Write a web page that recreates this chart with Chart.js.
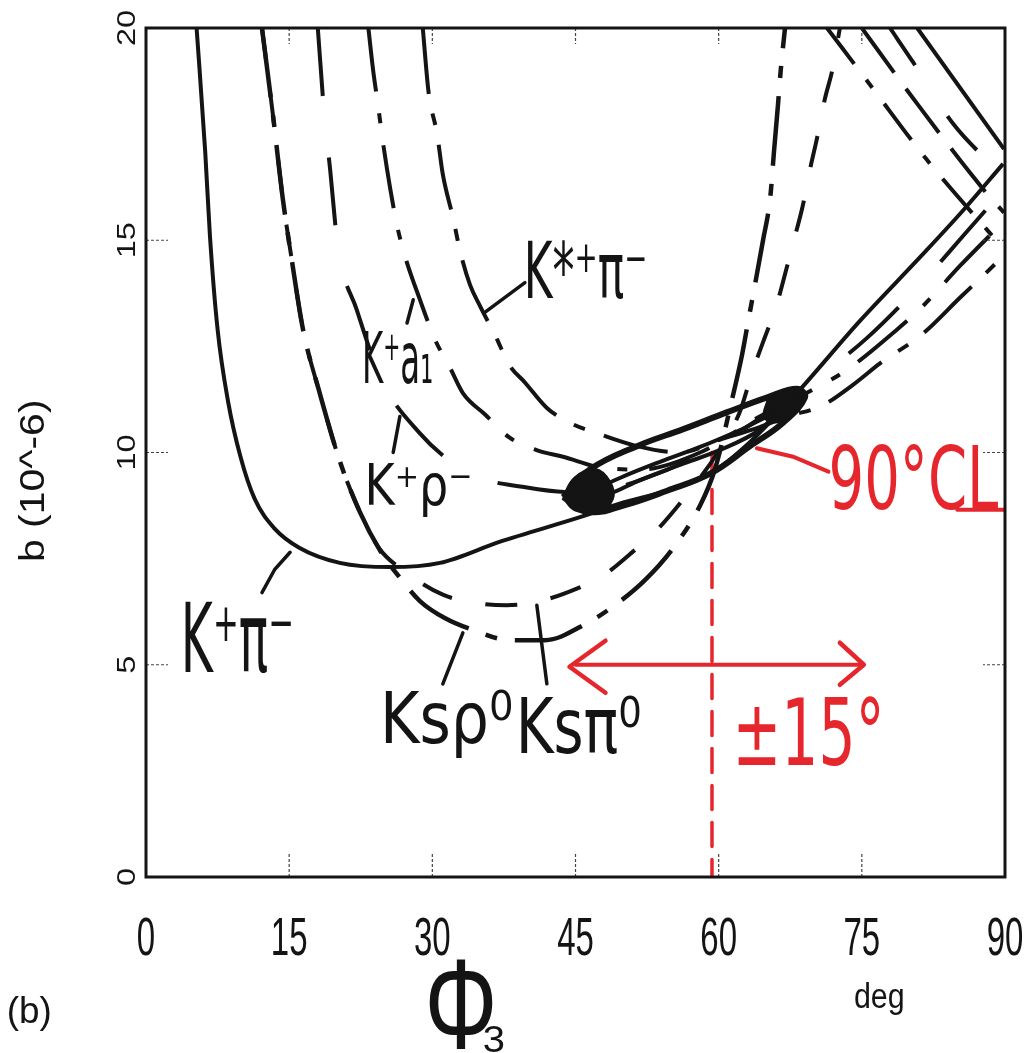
<!DOCTYPE html>
<html>
<head>
<meta charset="utf-8">
<script src="https://cdn.jsdelivr.net/npm/chart.js@4.4.1/dist/chart.umd.min.js"></script>
<style>
  html, body { margin: 0; padding: 0; background: #fff; }
  #wrap { width: 1032px; height: 1053px; }
</style>
</head>
<body>
<div id="wrap"><canvas id="chart" width="1032" height="1053"></canvas></div>
<script>
// phi3 in degrees, b in units of 1e-6
const xTicks = [0, 15, 30, 45, 60, 75, 90];
const yTicks = [0, 5, 10, 15, 20];

// K+ pi-  (solid)
const kpiPhi = [5.3, 6.2, 6.7, 7.5, 8.6, 9.9, 11.4, 13.5, 16.1, 20.3, 25.6, 30.8, 37.1, 45.8, 49.7, 54.6, 59.1, 63.3, 68.0, 74.8, 81.1, 85.6, 89.8];
const kpiB   = [20.0, 17.1, 15.1, 12.9, 11.2, 9.9, 8.9, 8.2, 7.75, 7.4, 7.3, 7.4, 7.9, 8.5, 8.8, 9.1, 9.5, 10.25, 11.35, 13.1, 14.6, 15.7, 16.8];

// Ks rho0 (lower of the two bottom curves)
const ksRhoPhi = [12.15, 13.3, 14.35, 15.3, 16.45, 18.2, 20.3, 22.4, 24.5, 26.6, 28.7, 31.3, 34.5, 38.1, 41.8, 46.2, 49.1, 52.3, 55.4, 58.05, 59.6, 61.4, 62.45, 63.1, 63.8, 64.65, 65.4, 65.8, 66.2, 66.5, 66.95];
const ksRhoB   = [20.0, 17.95, 15.95, 14.5, 12.9, 11.4, 9.8, 8.6, 7.7, 7.05, 6.5, 6.1, 5.8, 5.58, 5.58, 5.98, 6.4, 7.0, 7.8, 8.75, 9.6, 11.25, 12.3, 13.1, 13.95, 15.0, 16.0, 17.1, 18.15, 19.0, 20.0];

// Ks pi0 (shares the left branch with Ks rho0)
const ksPiPhi = [12.15, 13.3, 14.35, 15.3, 16.45, 18.2, 20.3, 22.4, 24.4, 27.1, 31.1, 34.7, 37.8, 41.3, 45.2, 47.9, 51.2, 53.65, 57.0, 59.9, 62.2, 63.6, 64.65, 66.1, 66.95, 68.0, 68.8, 69.6, 70.3, 71.15, 71.9, 72.7];
const ksPiB   = [20.0, 17.95, 15.95, 14.5, 12.9, 11.4, 9.8, 8.6, 7.75, 7.2, 6.65, 6.45, 6.4, 6.5, 6.8, 7.1, 7.7, 8.2, 9.1, 10.0, 10.95, 11.95, 12.6, 13.5, 14.2, 15.1, 15.8, 16.7, 17.4, 18.35, 19.0, 20.0];

// K+ rho-
const kRhoPhi = [18.0, 18.65, 19.3, 20.1, 22.1, 24.7, 28.7, 31.85, 35.0, 39.2, 44.1, 47.6, 51.8, 58.05, 64.3, 70.3, 75.55, 81.1, 85.6, 89.9];
const kRhoB   = [20.0, 18.05, 16.65, 14.85, 13.35, 11.7, 10.45, 9.8, 9.4, 9.2, 9.07, 9.1, 9.35, 9.95, 10.8, 11.75, 12.7, 13.95, 15.1, 16.2];

// K+ a1
const kA1Phi = [23.3, 23.8, 24.3, 24.8, 25.6, 26.3, 27.1, 28.7, 30.3, 31.85, 33.2, 35.5, 38.1, 41.0, 43.7, 47.6, 51.8, 58.05, 64.3, 69.6, 73.45, 78.7, 81.4, 85.3, 89.9];
const kA1B   = [20.0, 19.0, 18.2, 17.35, 16.2, 15.35, 14.65, 13.6, 12.65, 12.0, 11.4, 10.9, 10.35, 10.05, 9.9, 9.65, 9.6, 10.0, 10.85, 11.45, 11.95, 12.9, 13.45, 14.4, 15.45];

// K*+ pi-
const kStarPhi = [29.0, 29.6, 30.5, 31.1, 32.2, 32.9, 33.95, 35.0, 36.6, 38.1, 39.7, 42.0, 44.4, 47.3, 51.45, 55.95, 60.1, 64.3, 67.2, 70.8, 74.1, 76.9, 81.4, 85.3, 88.1, 89.9];
const kStarB   = [20.0, 18.5, 17.5, 16.55, 15.5, 14.75, 13.95, 13.45, 12.75, 12.05, 11.65, 11.05, 10.7, 10.45, 10.15, 10.0, 10.3, 10.6, 10.85, 11.1, 11.6, 12.1, 12.8, 13.65, 14.25, 14.65];

// falling branches in the top right corner
const fall1Phi = [71.35, 75.9, 81.8, 88.1, 89.9];
const fall1B   = [20.0, 18.65, 16.9, 15.25, 14.8];
const fall2Phi = [75.0, 80.35, 88.1, 89.9];
const fall2B   = [20.0, 18.35, 16.1, 15.65];
const fall3Phi = [77.95, 80.35, 84.55, 89.9];
const fall3B   = [20.0, 19.2, 17.75, 16.5];
const fall4Phi = [80.8, 89.9];
const fall4B   = [20.0, 17.15];

// 90% CL contours
const clOuterPhi = [43.7, 46.5, 51.45, 56.3, 60.9, 65.1, 68.2, 69.05, 66.75, 63.3, 59.1, 54.6, 50.0, 46.5, 43.7];
const clOuterB   = [8.95, 9.6, 10.15, 10.55, 10.95, 11.3, 11.5, 11.3, 10.7, 10.15, 9.5, 9.1, 8.75, 8.6, 8.95];
const clInnerPhi = [46.5, 49.65, 53.85, 58.05, 62.25, 65.6, 64.3, 60.15, 55.95, 51.75, 48.1, 46.5];
const clInnerB   = [9.07, 9.4, 9.78, 10.13, 10.53, 10.88, 10.53, 10.06, 9.71, 9.35, 9.0, 9.07];
const blobLPhi = [43.7, 44.95, 47.05, 48.6, 48.85, 47.35, 44.95, 43.7];
const blobLB   = [8.95, 9.4, 9.6, 9.3, 8.9, 8.6, 8.65, 8.95];
const blobRPhi = [65.2, 67.5, 68.8, 67.9, 66.0, 64.8, 65.2];
const blobRB   = [11.25, 11.48, 11.3, 10.92, 10.72, 10.85, 11.25];

// hand-drawn red marks
const phiMarkPhi = [59.3, 59.3];
const phiMarkB   = [10.0, 0];
const rangePhi = [45, 75];
const rangeB   = [5.0, 5.0];
const clPtrPhi = [64.0, 67.8, 71.5];
const clPtrB   = [10.1, 9.9, 9.55];
const clTailPhi = [85.0, 89.9];
const clTailB   = [8.65, 8.65];

// hand-drawn label pointers
const kpiPtrPhi = [12.15, 13.5, 15.1];
const kpiPtrB   = [6.7, 7.25, 7.65];
const kStarPtrPhi = [35.5, 39.7];
const kStarPtrB   = [13.3, 14.0];
const kA1PtrPhi = [27.35, 28.0];
const kA1PtrB   = [13.05, 13.6];
const kRhoPtrPhi = [25.9, 26.6];
const kRhoPtrB   = [10.0, 10.85];
const ksRhoPtrPhi = [31.1, 33.2];
const ksRhoPtrB   = [4.55, 5.75];
const ksPiPtrPhi = [40.95, 42.0];
const ksPiPtrB   = [6.4, 4.55];

const INK = '#141414';
const RED = '#e5262d';

function pts(phi, b) {
  return phi.map((p, i) => ({ x: p, y: b[i] }));
}

function curve(phi, b, dash, width) {
  return {
    data: pts(phi, b),
    showLine: true,
    pointRadius: 0,
    borderColor: INK,
    borderWidth: width || 4,
    borderDash: dash || [],
    borderCapStyle: 'butt',
    cubicInterpolationMode: 'monotone',
    fill: false
  };
}

function loop(phi, b, width, filled) {
  return {
    data: pts(phi, b),
    showLine: true,
    pointRadius: 0,
    borderColor: INK,
    borderWidth: width,
    tension: 0.4,
    fill: filled ? 'shape' : false,
    backgroundColor: INK
  };
}

function straight(phi, b, width, color, dash) {
  return {
    data: pts(phi, b),
    showLine: true,
    pointRadius: 0,
    borderColor: color || INK,
    borderWidth: width,
    borderDash: dash || [],
    borderCapStyle: 'round',
    tension: 0,
    fill: false
  };
}

const datasets = [
  curve(kpiPhi, kpiB, [], 4),
  curve(ksRhoPhi, ksRhoB, [70, 18, 12, 18], 4.5),
  curve(ksPiPhi, ksPiB, [32, 34], 4),
  curve(kRhoPhi, kRhoB, [68, 62], 4),
  curve(kA1Phi, kA1B, [64, 22, 10, 22], 4),
  curve(kStarPhi, kStarB, [66, 20, 12, 20], 4),
  curve(fall1Phi, fall1B, [45, 20, 10, 20], 4),
  curve(fall2Phi, fall2B, [55, 20], 4),
  curve(fall3Phi, fall3B, [45, 60], 4),
  curve(fall4Phi, fall4B, [], 4),
  loop(clOuterPhi, clOuterB, 6, false),
  loop(clInnerPhi, clInnerB, 4, false),
  loop(blobLPhi, blobLB, 3, true),
  loop(blobRPhi, blobRB, 3, true),
  straight(phiMarkPhi, phiMarkB, 3.5, RED, [24, 13]),
  straight(rangePhi, rangeB, 4, RED),
  straight(clPtrPhi, clPtrB, 4, RED),
  straight(clTailPhi, clTailB, 4, RED),
  straight(kpiPtrPhi, kpiPtrB, 3.5),
  straight(kStarPtrPhi, kStarPtrB, 3.5),
  straight(kA1PtrPhi, kA1PtrB, 3.5),
  straight(kRhoPtrPhi, kRhoPtrB, 3.5),
  straight(ksRhoPtrPhi, ksRhoPtrB, 3.5),
  straight(ksPiPtrPhi, ksPiPtrB, 3.5)
];

// text fitted into an ink box centred at (cx, cy)
function fitText(ctx, text, cx, cy, w, h, font, color, rot) {
  ctx.save();
  ctx.font = font;
  ctx.textAlign = 'left';
  ctx.textBaseline = 'alphabetic';
  const m = ctx.measureText(text);
  const tw = m.actualBoundingBoxLeft + m.actualBoundingBoxRight;
  const th = m.actualBoundingBoxAscent + m.actualBoundingBoxDescent;
  ctx.translate(cx, cy);
  if (rot) ctx.rotate(rot);
  ctx.scale(w / tw, h / th);
  ctx.fillStyle = color;
  ctx.fillText(text, -tw / 2 + m.actualBoundingBoxLeft, th / 2 - m.actualBoundingBoxDescent);
  ctx.restore();
}

const handLabels = [
  { text: 'K⁺π⁻', phi: 9.64, b: 5.65, w: 107, h: 74 },
  { text: 'K*⁺π⁻', phi: 46.1, b: 14.32, w: 118, h: 62 },
  { text: 'K⁺a₁', phi: 26.4, b: 12.25, w: 67, h: 55 },
  { text: 'K⁺ρ⁻', phi: 28.6, b: 9.12, w: 102, h: 55 },
  { text: 'Ksρ⁰', phi: 31.64, b: 3.6, w: 127, h: 70 },
  { text: 'Ksπ⁰', phi: 45.47, b: 3.58, w: 120, h: 60 }
];
const redLabels = [
  { text: '90°CL', phi: 80.6, b: 9.45, w: 168, h: 70 },
  { text: '±15°', phi: 69.5, b: 3.46, w: 142, h: 74 }
];

const decor = {
  id: 'decor',
  afterDatasetsDraw(chart) {
    const { ctx, chartArea: a, scales: { x, y } } = chart;
    ctx.save();

    // inward tick marks
    ctx.strokeStyle = '#444';
    ctx.lineWidth = 1.2;
    ctx.setLineDash([3, 2]);
    ctx.beginPath();
    xTicks.slice(1, -1).forEach(v => {
      const px = x.getPixelForValue(v);
      ctx.moveTo(px, a.bottom); ctx.lineTo(px, a.bottom - 24);
      ctx.moveTo(px, a.top); ctx.lineTo(px, a.top + 16);
    });
    yTicks.slice(1, -1).forEach(v => {
      const py = y.getPixelForValue(v);
      ctx.moveTo(a.left, py); ctx.lineTo(a.left + 22, py);
      ctx.moveTo(a.right, py); ctx.lineTo(a.right - 22, py);
    });
    ctx.stroke();
    ctx.setLineDash([]);

    // frame
    ctx.strokeStyle = INK;
    ctx.lineWidth = 3;
    ctx.strokeRect(a.left, a.top, a.right - a.left, a.bottom - a.top);

    // arrow heads of the +-15 deg range
    const yA = y.getPixelForValue(rangeB[0]);
    const xL = x.getPixelForValue(rangePhi[0]);
    const xR = x.getPixelForValue(rangePhi[1]);
    ctx.strokeStyle = RED;
    ctx.lineWidth = 4.5;
    ctx.lineCap = 'round';
    ctx.lineJoin = 'round';
    ctx.beginPath();
    ctx.moveTo(xL + 30, yA - 24); ctx.lineTo(xL - 6, yA + 2); ctx.lineTo(xL + 30, yA + 28);
    ctx.moveTo(xR - 22, yA - 22); ctx.lineTo(xR + 2, yA); ctx.lineTo(xR - 22, yA + 20);
    ctx.stroke();

    // tick labels
    ctx.fillStyle = INK;
    ctx.font = '33px "Liberation Sans", Arial, sans-serif';
    ctx.textAlign = 'center';
    ctx.textBaseline = 'alphabetic';
    xTicks.forEach(v => {
      ctx.save();
      ctx.translate(x.getPixelForValue(v), a.bottom + 78);
      ctx.scale(1, 1.6);
      ctx.fillText(String(v), 0, 0);
      ctx.restore();
    });
    ctx.font = '25px "Liberation Sans", Arial, sans-serif';
    ctx.textBaseline = 'middle';
    yTicks.forEach(v => {
      ctx.save();
      ctx.translate(a.left - 18, y.getPixelForValue(v));
      ctx.rotate(-Math.PI / 2);
      ctx.scale(1.3, 1);
      ctx.fillText(String(v), 0, 0);
      ctx.restore();
    });

    // axis titles
    const sans = '"Liberation Sans", Arial, sans-serif';
    fitText(ctx, 'b (10^-6)', a.left - 111, (a.top + a.bottom) / 2 + 28, 160, 32, '26px ' + sans, INK, -Math.PI / 2);
    fitText(ctx, 'Φ', a.left + 315, a.bottom + 128, 64, 88, '60px ' + sans, INK);
    fitText(ctx, '3', a.left + 348, a.bottom + 163, 20, 24, '30px ' + sans, INK);
    fitText(ctx, 'deg', a.left + 733, a.bottom + 122, 48, 32, '28px ' + sans, INK);
    fitText(ctx, '(b)', a.left - 117, a.bottom + 137, 42, 35, '28px ' + sans, INK);

    // hand-written annotations
    const hand = '40px "DejaVu Sans", sans-serif';
    handLabels.forEach(l => {
      fitText(ctx, l.text, x.getPixelForValue(l.phi), y.getPixelForValue(l.b), l.w, l.h, hand, INK);
    });
    redLabels.forEach(l => {
      fitText(ctx, l.text, x.getPixelForValue(l.phi), y.getPixelForValue(l.b), l.w, l.h, hand, RED);
    });

    ctx.restore();
  }
};

new Chart(document.getElementById('chart'), {
  type: 'scatter',
  data: { datasets },
  options: {
    responsive: false,
    animation: false,
    layout: { padding: { left: 0, top: 28, right: 27, bottom: 0 } },
    plugins: { legend: { display: false }, tooltip: { enabled: false } },
    scales: {
      x: {
        type: 'linear', min: 0, max: 90,
        ticks: { display: false },
        grid: { display: false },
        border: { display: false },
        afterFit(s) { s.height = 176; }
      },
      y: {
        type: 'linear', min: 0, max: 20,
        ticks: { display: false },
        grid: { display: false },
        border: { display: false },
        afterFit(s) { s.width = 146; }
      }
    }
  },
  plugins: [decor]
});
</script>
</body>
</html>
